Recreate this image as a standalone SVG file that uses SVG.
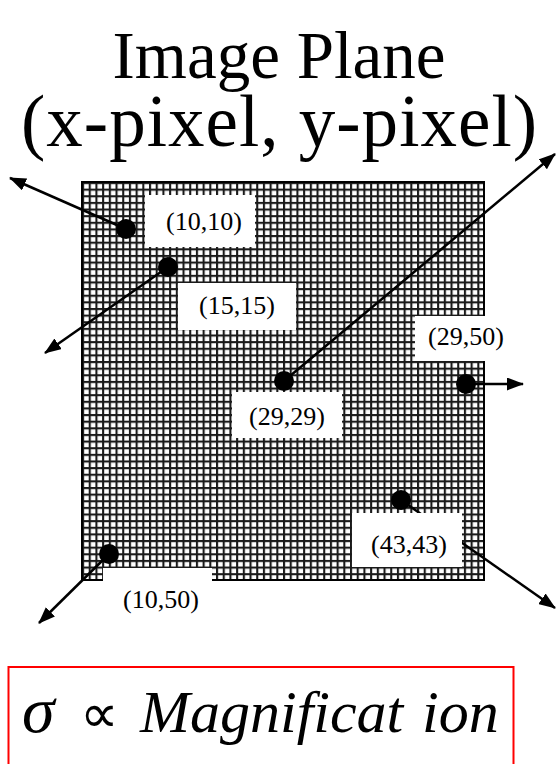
<svg xmlns="http://www.w3.org/2000/svg" width="556" height="764" viewBox="0 0 556 764">
<style>
.title{font-family:"Liberation Serif","Times New Roman",serif;font-size:67px;fill:#000;text-anchor:middle}
.lbl{font-family:"Liberation Serif","Times New Roman",serif;font-size:26px;fill:#000;text-anchor:middle}
.box{fill:#fff}
.dot{fill:#000}
.arr{stroke:#000;stroke-width:2.5;fill:none;marker-end:url(#ah)}
.eq{font-family:"Liberation Serif","Times New Roman",serif;font-size:60px;font-style:italic;fill:#000}
</style>
<defs>
<marker id="ah" viewBox="0 0 17 13" refX="16" refY="6.5" markerWidth="17" markerHeight="13" markerUnits="userSpaceOnUse" orient="auto">
<path d="M0,0 L17,6.5 L0,13 z" fill="#000"/>
</marker>
<pattern id="grid" patternUnits="userSpaceOnUse" x="82" y="182" width="6.7" height="6.63">
<rect x="0" y="0" width="6.7" height="6.63" fill="#fff"/>
<rect x="0" y="0" width="2.1" height="6.63" fill="#1a1a1a"/>
<rect x="0" y="0" width="6.7" height="2.1" fill="#1a1a1a"/>
</pattern>
</defs>
<g id="title">
<text class="title" x="279" y="78">Image Plane</text>
<text class="title" x="279" y="146" style="font-size:73px" textLength="516" lengthAdjust="spacing">(x-pixel, y-pixel)</text>
</g>
<g id="imageplane">
<rect x="82" y="182" width="402" height="398" fill="url(#grid)" stroke="#000" stroke-width="2"/>
</g>
<g id="connectors">
<line class="arr" x1="126" y1="229" x2="10" y2="178"/>
<line class="arr" x1="168" y1="267" x2="45" y2="353"/>
<line class="arr" x1="284" y1="381" x2="555" y2="154"/>
<line class="arr" x1="466" y1="384" x2="523" y2="384"/>
<line class="arr" x1="401" y1="500" x2="555" y2="608"/>
<line class="arr" x1="109" y1="554" x2="39" y2="623"/>
</g>
<g id="p10_10">
<rect class="box" x="145" y="195" width="110" height="52"/>
<text class="lbl" x="204" y="230">(10,10)</text>
<circle class="dot" cx="126" cy="229" r="10"/>
</g>
<g id="p15_15">
<rect class="box" x="178" y="283" width="118" height="47"/>
<text class="lbl" x="237" y="314">(15,15)</text>
<circle class="dot" cx="168" cy="267" r="10"/>
</g>
<g id="p29_50">
<rect class="box" x="415" y="316" width="105" height="45"/>
<text class="lbl" x="466" y="345">(29,50)</text>
<circle class="dot" cx="466" cy="384" r="10"/>
</g>
<g id="p29_29">
<rect class="box" x="232" y="392" width="110" height="46"/>
<text class="lbl" x="287" y="425">(29,29)</text>
<circle class="dot" cx="284" cy="381" r="10"/>
</g>
<g id="p43_43">
<rect class="box" x="352" y="513" width="110" height="54"/>
<text class="lbl" x="409" y="553">(43,43)</text>
<circle class="dot" cx="401" cy="500" r="10"/>
</g>
<g id="p10_50">
<rect class="box" x="103" y="568" width="109" height="48"/>
<text class="lbl" x="161" y="608">(10,50)</text>
<circle class="dot" cx="109" cy="554" r="10"/>
</g>
<g id="formula">
<rect x="8.5" y="667" width="505" height="110" fill="none" stroke="#f00" stroke-width="2"/>
<text class="eq" y="732"><tspan x="22" style="font-size:66px">σ</tspan><tspan x="80" style="font-style:normal;font-size:54px">∝</tspan><tspan x="140">Magnificat</tspan><tspan x="422">ion</tspan></text>
</g>
</svg>
